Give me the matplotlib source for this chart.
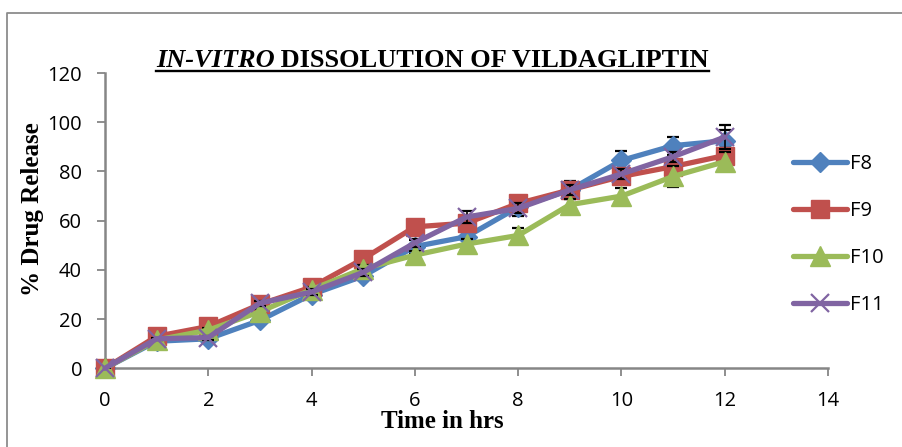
import matplotlib
matplotlib.use("Agg")
import matplotlib.pyplot as plt
from matplotlib.lines import Line2D

# Dissolution time points (hours)
time_hrs = [0, 1, 2, 3, 4, 5, 6, 7, 8, 9, 10, 11, 12]

# Cumulative % drug release per formulation
f8 = [0, 11, 12, 19.5, 30, 37.5, 49.5, 53.5, 65.5, 72.5, 84.5, 90.5, 92.5]
f9 = [0, 13, 17, 26, 33, 44.5, 57.5, 59, 67, 72.5, 78, 82, 86.5]
f10 = [0, 11.5, 15.5, 23, 32, 40.5, 46, 50.5, 54, 66.5, 70, 78, 84]
f11 = [0, 12, 12.5, 26.5, 31, 39, 51, 61.5, 65, 72.5, 79, 86, 94]

# Standard deviations (n = 3)
f8_sd = [0, 0.5, 0.8, 1.0, 1.2, 1.5, 2.5, 1.5, 3.4, 3.8, 3.8, 3.6, 4.5]
f9_sd = [0, 0.8, 1.0, 1.2, 1.2, 1.5, 1.5, 2.0, 1.5, 2.0, 2.5, 2.5, 3.0]
f10_sd = [0, 0.5, 0.8, 1.0, 1.2, 1.5, 1.5, 2.0, 3.2, 2.5, 3.2, 4.4, 4.0]
f11_sd = [0, 0.5, 0.8, 1.0, 1.2, 1.5, 1.5, 2.5, 2.0, 2.0, 2.0, 2.0, 5.0]

series_names = ["F8", "F9", "F10", "F11"]
x_ticks = [0, 2, 4, 6, 8, 10, 12, 14]
y_ticks = [0, 20, 40, 60, 80, 100, 120]

W, H = 902, 447
fig = plt.figure(figsize=(W / 100, H / 100), dpi=100)
fig.patch.set_facecolor("white")

ax = fig.add_axes([105 / W, 1 - 368.3 / H, (828 - 105) / W, 295.2 / H])

tick_font = "Open Sans"
serif = "Liberation Serif"
axis_grey = "#868686"

styles = [
    dict(color="#4F81BD", marker="D", ms=10),
    dict(color="#C0504D", marker="s", ms=13),
    dict(color="#9BBB59", marker="^", ms=14),
    dict(color="#8064A2", marker="x", ms=13, mew=1.6),
]
data = [f8, f9, f10, f11]
sds = [f8_sd, f9_sd, f10_sd, f11_sd]

for i, (name, y, sd, st) in enumerate(zip(series_names, data, sds, styles)):
    ax.errorbar(time_hrs, y, yerr=sd, fmt="none", ecolor="black",
                elinewidth=1.2, capsize=4.5, capthick=1.6, zorder=2 + 2 * i)
    ax.plot(time_hrs, y, color=st["color"], lw=3.8, marker=st["marker"],
            ms=st["ms"], mew=st.get("mew", 1.0), mec=st["color"],
            mfc=st["color"], label=name, zorder=3 + 2 * i, clip_on=False,
            solid_joinstyle="round", solid_capstyle="round")

ax.set_xlim(0, 14)
ax.set_ylim(0, 120)
ax.set_xticks(x_ticks)
ax.set_yticks(y_ticks)
ax.set_xticklabels([str(v) for v in x_ticks], fontfamily=tick_font, fontsize=14.5)
ax.set_yticklabels([str(v) for v in y_ticks], fontfamily=tick_font, fontsize=14.5)
ax.tick_params(axis="both", direction="out", length=5.5, width=1.3,
               color=axis_grey)
ax.tick_params(axis="x", pad=11)
ax.tick_params(axis="y", pad=11)
for s in ["top", "right"]:
    ax.spines[s].set_visible(False)
for s in ["left", "bottom"]:
    ax.spines[s].set_color(axis_grey)
    ax.spines[s].set_linewidth(1.8)
    ax.spines[s].set_zorder(1)
ax.set_facecolor("white")

# Axis titles
fig.text(442 / W, 1 - 422 / H, "Time in hrs", fontfamily=serif,
         fontweight="bold", fontsize=18, ha="center", va="center")
fig.text(33 / W, 1 - 209 / H, "% Drug Release", fontfamily=serif,
         fontweight="bold", fontsize=18, ha="center", va="center",
         rotation=90)

# Underlined chart title: italic prefix followed by upright text
fig.canvas.draw()
renderer = fig.canvas.get_renderer()
title_y = 1 - 67 / H
t1 = fig.text(0, title_y, "IN-VITRO", fontfamily=serif, fontweight="bold",
              fontstyle="italic", fontsize=19, ha="left", va="baseline")
t2 = fig.text(0, title_y, " DISSOLUTION OF VILDAGLIPTIN", fontfamily=serif,
              fontweight="bold", fontsize=19, ha="left", va="baseline")
w1 = t1.get_window_extent(renderer).width
w2 = t2.get_window_extent(renderer).width
total = w1 + w2
left_px = 432.5 - total / 2
t1.set_x(left_px / W)
t2.set_x((left_px + w1) / W)
ul_y = 1 - 70.5 / H
fig.add_artist(Line2D([left_px / W, (left_px + total) / W], [ul_y, ul_y],
                      color="black", lw=1.7, transform=fig.transFigure))

# Legend
fig.legend(loc="upper left", bbox_to_anchor=(793 / W, 1 - 154 / H),
           frameon=False, borderpad=0, borderaxespad=0,
           handlelength=2.7, handletextpad=0.12, labelspacing=1.34,
           prop=dict(family=tick_font, size=14.5))

# Chart frame (left and top edges)
frame_c = "#8c8c8c"
fig.add_artist(Line2D([7 / W, 7 / W, 1.0], [0.0, 1 - 13 / H, 1 - 13 / H],
                      color=frame_c, lw=1.3, transform=fig.transFigure))

fig.savefig("out.png", dpi=100, facecolor="white")
